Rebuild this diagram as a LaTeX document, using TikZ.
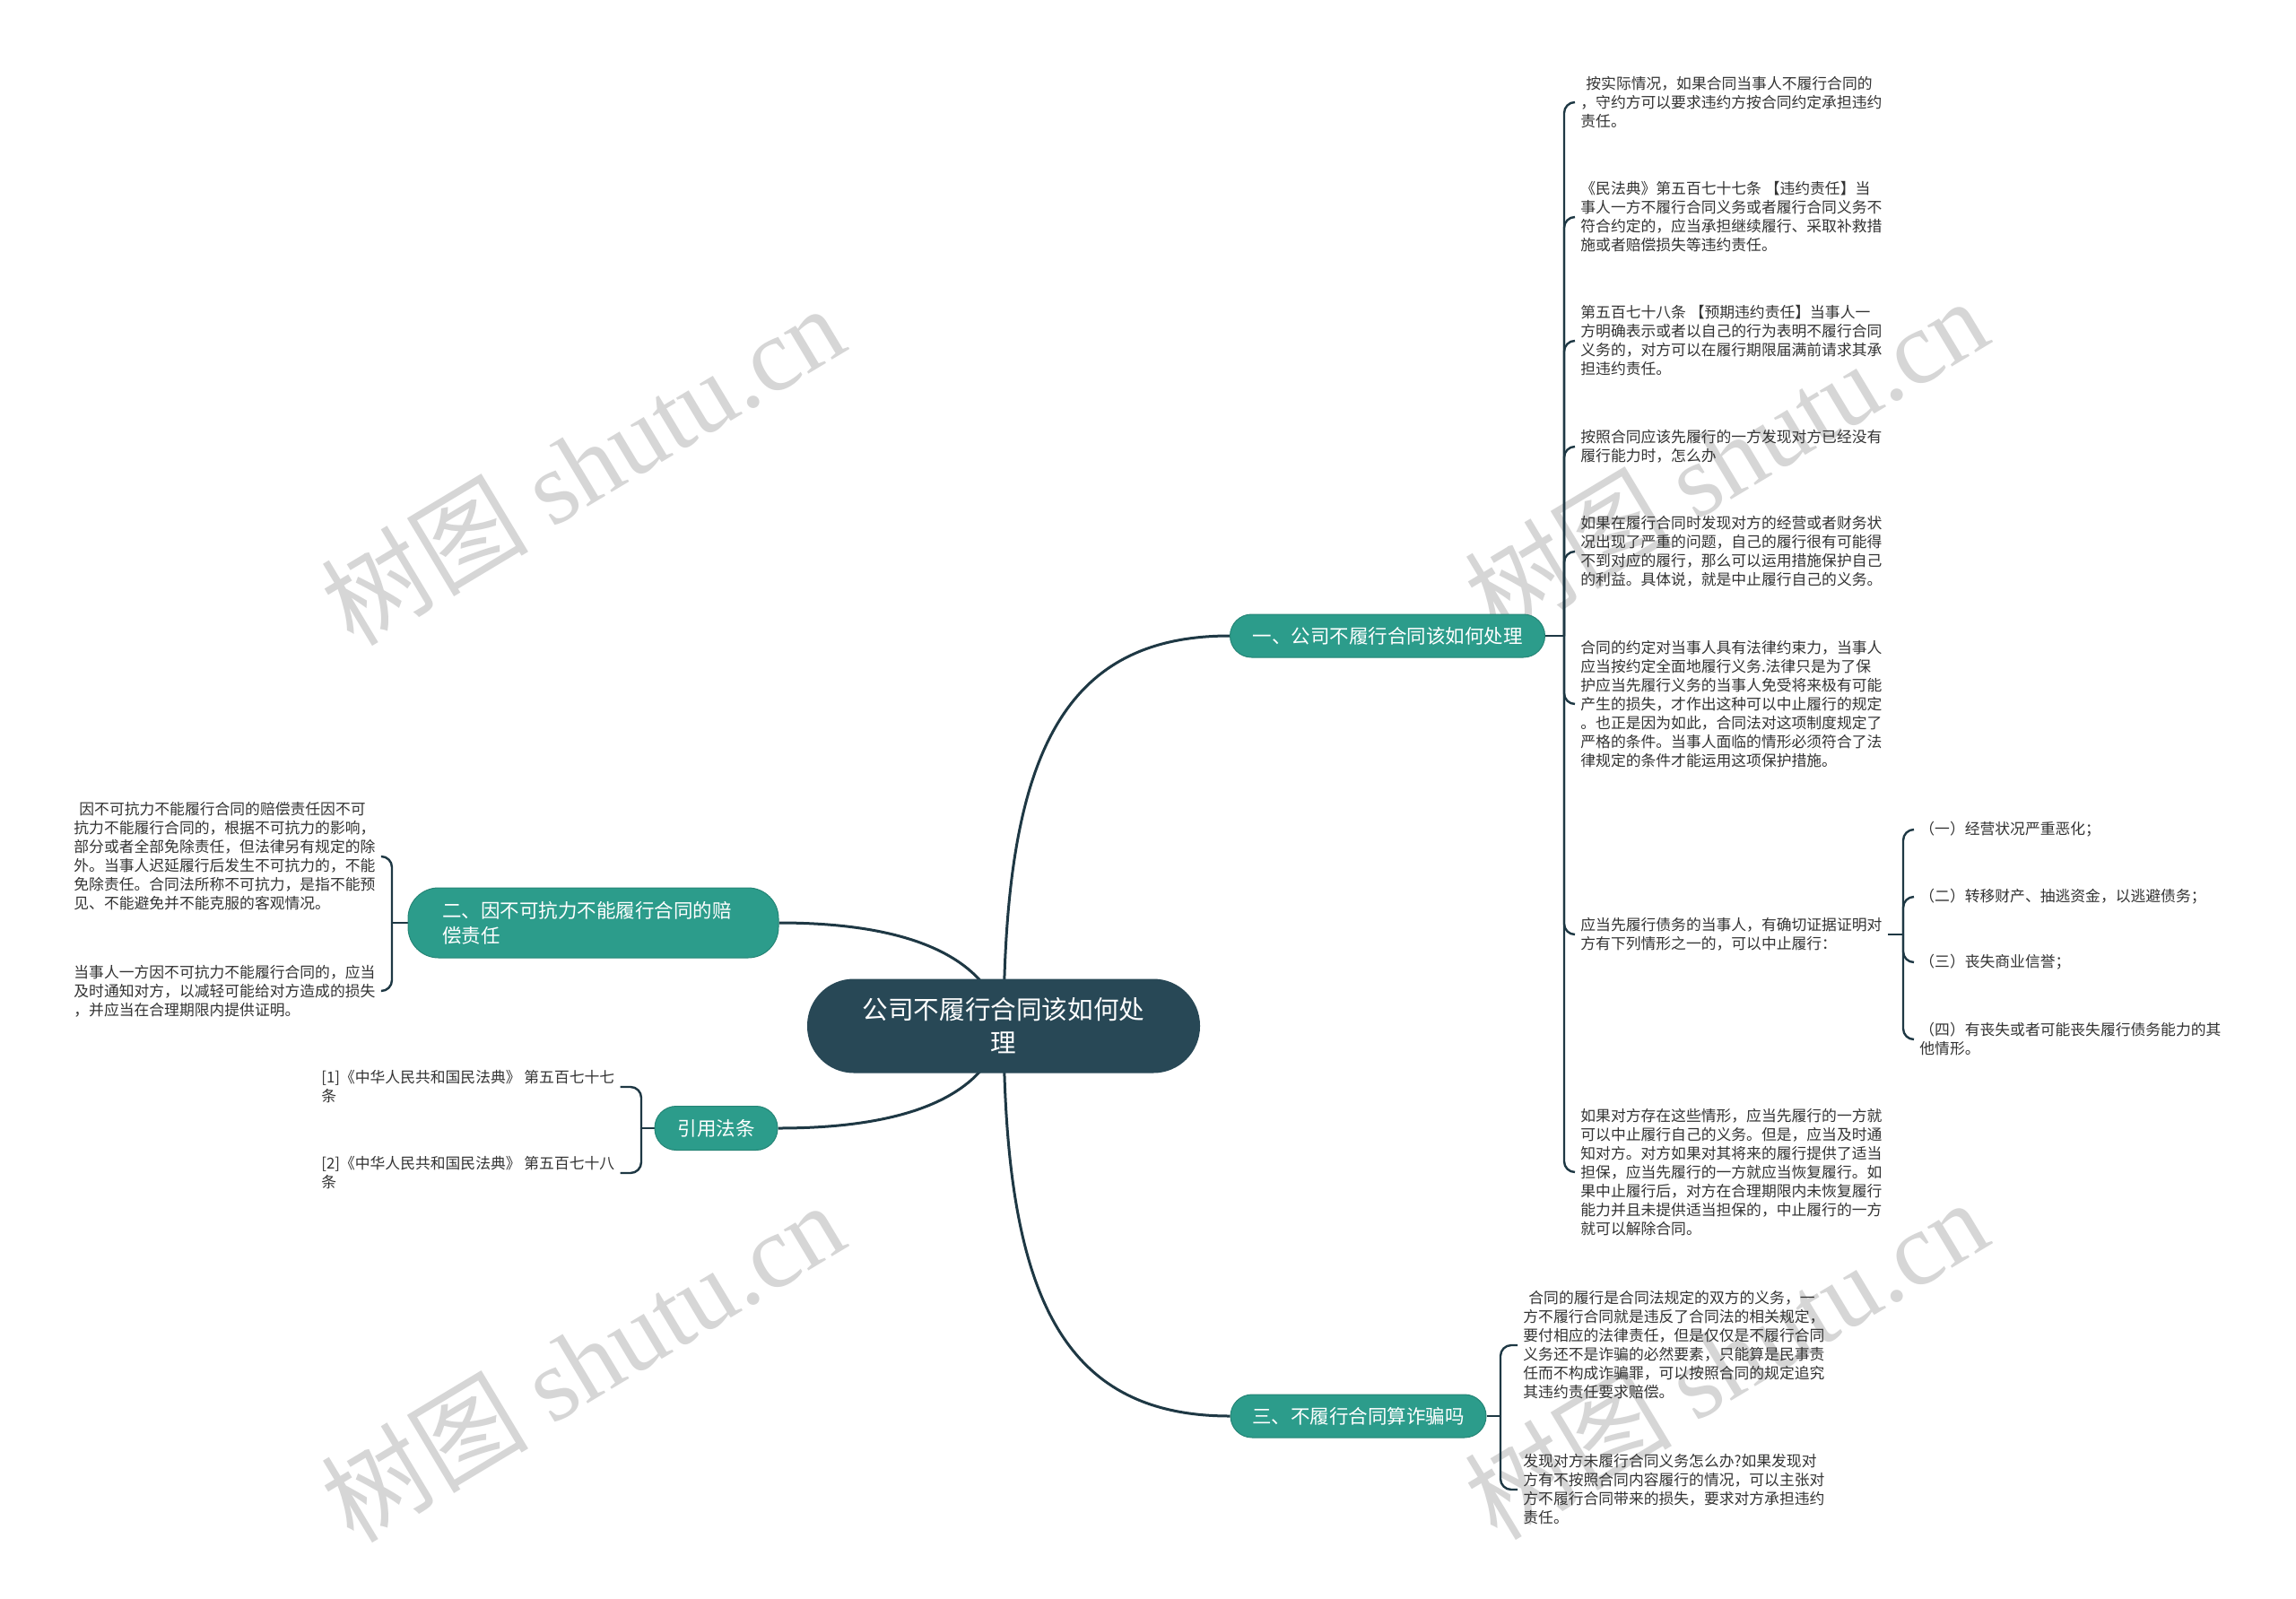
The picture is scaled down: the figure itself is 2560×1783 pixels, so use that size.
\documentclass[tikz,border=0pt]{standalone}
\usepackage{fontspec}
\setmainfont{Noto Sans CJK SC}
\newfontfamily\wmserif{Liberation Serif}
\usetikzlibrary{backgrounds}
\definecolor{centralc}{RGB}{40,72,86}
\definecolor{tealc}{RGB}{44,156,139}
\definecolor{linec}{RGB}{30,56,68}
\definecolor{txtc}{RGB}{51,51,51}
\definecolor{wmc}{RGB}{214,214,214}
\begin{document}
\begin{tikzpicture}[x=0.5pt,y=-0.5pt,
  centralbox/.style={fill=centralc, text=white, rounded corners=26pt, minimum width=219pt, minimum height=52.5pt, align=center, font=\fontsize{14.3}{18.5}\selectfont, inner sep=0pt},
  branchbox/.style={fill=tealc, draw=tealc!85!black, line width=0.5pt, text=white, align=left, font=\fontsize{10.75}{14}\selectfont, inner sep=0pt},
  leafbox/.style={text=txtc, align=left, font=\fontsize{8.4}{10.5}\selectfont, inner xsep=3pt, inner ysep=1pt, anchor=west},
  conn/.style={draw=linec, line width=1.5pt},
  brack/.style={draw=linec, line width=1.2pt, rounded corners=6pt},
  wmark/.style={text=wmc, rotate=31, font=\fontsize{58}{62}\selectfont, inner sep=0pt}
]
\useasboundingbox (0,0) rectangle (2560,1783);

% central and branches
\node[centralbox] (c) at (1119,1144) {公司不履行合同该如何处\\理};
\node[branchbox, minimum width=175.5pt, minimum height=24pt, rounded corners=12pt, align=center] (b1) at (1547,709) {一、公司不履行合同该如何处理};
\node[branchbox, minimum width=206.5pt, minimum height=39pt, rounded corners=17pt, text width=168.5pt] (b2) at (661.5,1029) {二、因不可抗力不能履行合同的赔\\偿责任};
\node[branchbox, minimum width=68.5pt, minimum height=24.5pt, rounded corners=12pt, align=center] (b4) at (798.5,1258) {引用法条};
\node[branchbox, minimum width=142.5pt, minimum height=24pt, rounded corners=12pt, align=center] (b3) at (1514.5,1579) {三、不履行合同算诈骗吗};

\coordinate (s1) at (1744,709);
\coordinate (s2) at (437,1029);
\coordinate (s4) at (715,1258);
\coordinate (s3) at (1673,1579);
\coordinate (s7) at (2122,1042);

% branch 1 leaves
\node[leafbox] (l1) at (1756,114) {\hspace*{3pt}按实际情况，如果合同当事人不履行合同的\\，守约方可以要求违约方按合同约定承担违约\\责任。};
\node[leafbox] (l2) at (1756,242) {《民法典》第五百七十七条 【违约责任】当\\事人一方不履行合同义务或者履行合同义务不\\符合约定的，应当承担继续履行、采取补救措\\施或者赔偿损失等违约责任。};
\node[leafbox] (l3) at (1756,380) {第五百七十八条 【预期违约责任】当事人一\\方明确表示或者以自己的行为表明不履行合同\\义务的，对方可以在履行期限届满前请求其承\\担违约责任。};
\node[leafbox] (l4) at (1756,498) {按照合同应该先履行的一方发现对方已经没有\\履行能力时，怎么办};
\node[leafbox] (l5) at (1756,615) {如果在履行合同时发现对方的经营或者财务状\\况出现了严重的问题，自己的履行很有可能得\\不到对应的履行，那么可以运用措施保护自己\\的利益。具体说，就是中止履行自己的义务。};
\node[leafbox] (l6) at (1756,785) {合同的约定对当事人具有法律约束力，当事人\\应当按约定全面地履行义务.法律只是为了保\\护应当先履行义务的当事人免受将来极有可能\\产生的损失，才作出这种可以中止履行的规定\\。也正是因为如此，合同法对这项制度规定了\\严格的条件。当事人面临的情形必须符合了法\\律规定的条件才能运用这项保护措施。};
\node[leafbox] (l7) at (1756,1042) {应当先履行债务的当事人，有确切证据证明对\\方有下列情形之一的，可以中止履行：};
\node[leafbox] (l8) at (1756,1307) {如果对方存在这些情形，应当先履行的一方就\\可以中止履行自己的义务。但是，应当及时通\\知对方。对方如果对其将来的履行提供了适当\\担保，应当先履行的一方就应当恢复履行。如\\果中止履行后，对方在合理期限内未恢复履行\\能力并且未提供适当担保的，中止履行的一方\\就可以解除合同。};

% sub-leaves
\node[leafbox] (k1) at (2134,925) {（一）经营状况严重恶化；};
\node[leafbox] (k2) at (2134,1000) {（二）转移财产、抽逃资金，以逃避债务；};
\node[leafbox] (k3) at (2134,1073) {（三）丧失商业信誉；};
\node[leafbox] (k4) at (2134,1159) {（四）有丧失或者可能丧失履行债务能力的其\\他情形。};

% branch 2 leaves
\node[leafbox] (m1) at (76,955) {\hspace*{3pt}因不可抗力不能履行合同的赔偿责任因不可\\抗力不能履行合同的，根据不可抗力的影响，\\部分或者全部免除责任，但法律另有规定的除\\外。当事人迟延履行后发生不可抗力的，不能\\免除责任。合同法所称不可抗力，是指不能预\\见、不能避免并不能克服的客观情况。};
\node[leafbox] (m2) at (76,1105) {当事人一方因不可抗力不能履行合同的，应当\\及时通知对方，以减轻可能给对方造成的损失\\，并应当在合理期限内提供证明。};

% references leaves
\node[leafbox] (r1) at (352,1212) {[1]《中华人民共和国民法典》 第五百七十七\\条};
\node[leafbox] (r2) at (352,1308) {[2]《中华人民共和国民法典》 第五百七十八\\条};

% branch 3 leaves
\node[leafbox] (n1) at (1692,1500) {\hspace*{3pt}合同的履行是合同法规定的双方的义务，一\\方不履行合同就是违反了合同法的相关规定，\\要付相应的法律责任，但是仅仅是不履行合同\\义务还不是诈骗的必然要素，只能算是民事责\\任而不构成诈骗罪，可以按照合同的规定追究\\其违约责任要求赔偿。};
\node[leafbox] (n2) at (1692,1661) {发现对方未履行合同义务怎么办?如果发现对\\方有不按照合同内容履行的情况，可以主张对\\方不履行合同带来的损失，要求对方承担违约\\责任。};

\begin{pgfonlayer}{background}
\fill[white] (0,0) rectangle (2560,1783);
% watermarks
\node[wmark] (w1) at (649,518) {树图 {\wmserif shutu.cn}};
\node[wmark] (w2) at (1924,510) {树图 {\wmserif shutu.cn}};
\node[wmark] (w3) at (649,1518) {树图 {\wmserif shutu.cn}};
\node[wmark] (w4) at (1924,1515) {树图 {\wmserif shutu.cn}};
% main connectors
\draw[conn] (c.center) .. controls (1120,850) and (1180,709) .. (b1.west);
\draw[conn] (c.center) .. controls (1120,1438) and (1180,1579) .. (b3.west);
\draw[conn] (c.center) .. controls (1100,1060) and (1000,1029) .. (b2.east);
\draw[conn] (c.center) .. controls (1100,1228) and (1000,1258) .. (b4.east);
% brackets
\draw[brack] (b1.east) -- (s1);
\foreach \l in {l1,l2,l3,l4,l5,l6,l7,l8} \draw[brack] (s1) |- (\l.west);
\draw[brack] (l7.east) -- (s7);
\foreach \l in {k1,k2,k3,k4} \draw[brack] (s7) |- (\l.west);
\draw[brack] (b2.west) -- (s2);
\foreach \l in {m1,m2} \draw[brack] (s2) |- (\l.east);
\draw[brack] (b4.west) -- (s4);
\foreach \l in {r1,r2} \draw[brack] (s4) |- (\l.east);
\draw[brack] (b3.east) -- (s3);
\foreach \l in {n1,n2} \draw[brack] (s3) |- (\l.west);
\end{pgfonlayer}
\end{tikzpicture}
\end{document}
